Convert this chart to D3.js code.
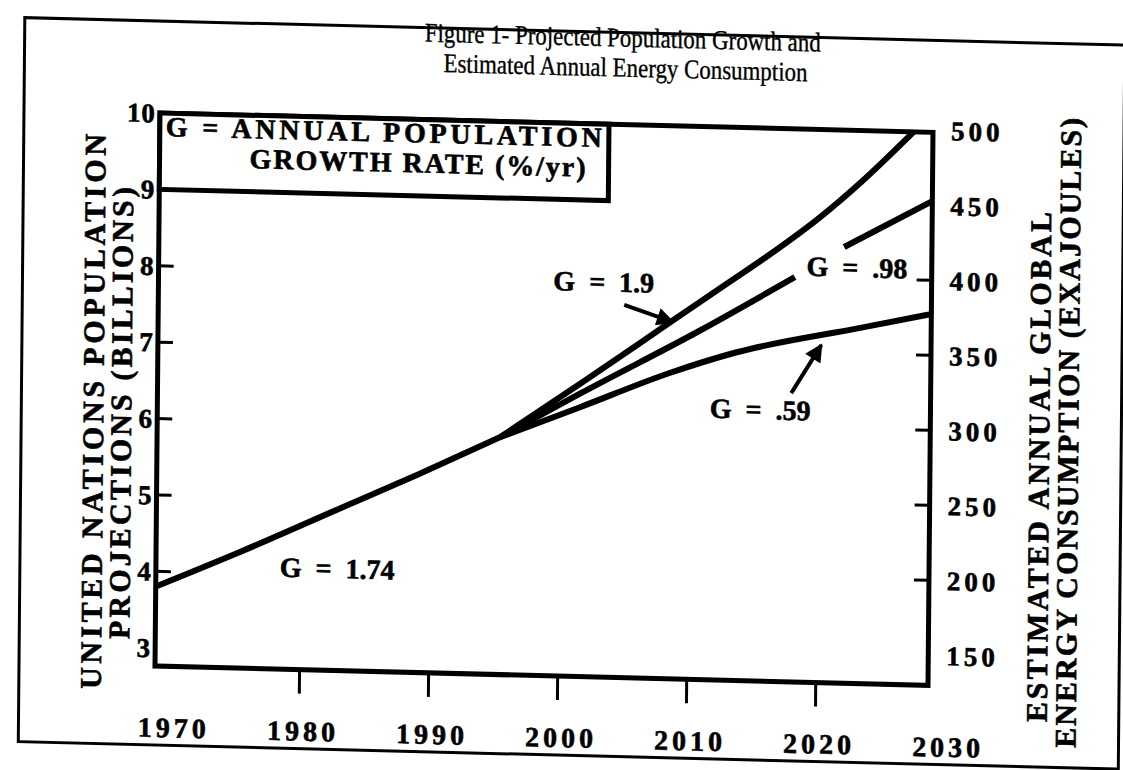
<!DOCTYPE html>
<html lang="en">
<head>
<meta charset="UTF-8">
<title>Figure 1 - Projected Population Growth</title>
<style>
  html, body { margin: 0; padding: 0; background: #fff; }
  svg { display: block; }
  text { font-family: "Liberation Serif", "Times New Roman", serif; fill: #000; }
  text.ink { stroke: #000; stroke-width: 0.6px; }
  text.title { stroke: #000; stroke-width: 0.35px; }
</style>
</head>
<body>
<div id="chart"></div>
<script src="https://cdn.jsdelivr.net/npm/d3@7/dist/d3.min.js"></script>
<script>
// ---- data ----
const yearLabels = [1970, 1980, 1990, 2000, 2010, 2020, 2030];
const yearTicks = [1980, 1990, 2000, 2010, 2020];
const popLabels = [3, 4, 5, 6, 7, 8, 9, 10];
const popTicks = [4, 5, 6, 7, 8];
const energyLabels = [150, 200, 250, 300, 350, 400, 450, 500];
const energyTicks = [200, 250, 300, 350, 400];

// G = 1.74 (history)
const histYear = [1968.8, 1975.3, 1983.1, 1989.0, 1995.4];
const histPop = [3.80, 4.28, 4.89, 5.35, 5.87];
// G = 1.9
const g190Year = [1995.4, 2001.6, 2008.5, 2013, 2016, 2020, 2023.2, 2027.2];
const g190Pop = [5.87, 6.60, 7.43, 7.97, 8.33, 8.85, 9.33, 10.0];
// G = .98 (broken where its label sits)
const g098Year = [1995.4, 2001.6, 2010.9, 2018.1, 2020.0, 2021.9, 2028.7];
const g098Pop = [5.87, 6.47, 7.34, 8.06, null, 8.47, 9.10];
// G = .59
const g059Year = [1995.4, 2001.6, 2008.4, 2013.5, 2023.3, 2028.7];
const g059Pop = [5.87, 6.29, 6.76, 7.05, 7.42, 7.62];

const growthLabels = ["G = 1.74", "G = 1.9", "G = .98", "G = .59"];
const labelYear = [1978.4, 1999.4, 2019.0, 2011.6];
const labelPop = [3.97, 7.81, 8.08, 6.19];

// arrows: [tailYear, tailPop, tipYear, tipPop]
const arrows = [
  [2004.9, 7.64, 2008.7, 7.43],
  [2017.9, 6.54, 2020.2, 7.18]
];

// ---- layout ----
const W = 1123, H = 770;
const pLeft = 160, pRight = 933, pTop = 113, pBottom = 666;

const svg = d3.select("#chart").append("svg")
    .attr("width", W)
    .attr("height", H);

svg.append("defs").append("marker")
    .attr("id", "head")
    .attr("viewBox", "0 0 10 10")
    .attr("refX", 9).attr("refY", 5)
    .attr("markerWidth", 24).attr("markerHeight", 18)
    .attr("markerUnits", "userSpaceOnUse")
    .attr("orient", "auto")
  .append("path")
    .attr("d", "M0,0 L10,5 L0,10 Z")
    .attr("fill", "#000");

// the scan is slightly skewed, so the whole page sits in a skewed group
const g = svg.append("g")
    .attr("transform", "matrix(1,0.025,-0.009,1,1,-4)");

const x = d3.scaleLinear().domain([1968.8, 2028.7]).range([pLeft, pRight]);
const y = d3.scaleLinear().domain([2.76, 10]).range([pBottom, pTop]);
const yE = d3.scaleLinear().domain([150, 500]).range([636, 111]);

// outer border (its right edge runs off the page near the top)
g.append("rect")
    .attr("x", 24).attr("y", 21)
    .attr("width", 1100).attr("height", 724)
    .attr("fill", "none").attr("stroke", "#000").attr("stroke-width", 3);

// title
g.append("text")
    .attr("class", "title")
    .attr("x", 622).attr("y", 35)
    .attr("text-anchor", "middle")
    .attr("font-size", 27)
    .attr("textLength", 396).attr("lengthAdjust", "spacingAndGlyphs")
    .text("Figure 1- Projected Population Growth and");
g.append("text")
    .attr("class", "title")
    .attr("x", 625).attr("y", 65)
    .attr("text-anchor", "middle")
    .attr("font-size", 27)
    .attr("textLength", 364).attr("lengthAdjust", "spacingAndGlyphs")
    .text("Estimated Annual Energy Consumption");

// plot frame
g.append("rect")
    .attr("x", pLeft).attr("y", pTop)
    .attr("width", pRight - pLeft).attr("height", pBottom - pTop)
    .attr("fill", "none").attr("stroke", "#000").attr("stroke-width", 5);

// legend box in the top left corner
g.append("rect")
    .attr("x", pLeft).attr("y", pTop)
    .attr("width", 449).attr("height", y(9) - pTop)
    .attr("fill", "#fff").attr("stroke", "#000").attr("stroke-width", 5);
g.append("text")
    .attr("class", "ink")
    .attr("x", 166).attr("y", 136)
    .attr("font-size", 28).attr("font-weight", "bold")
    .attr("textLength", 436).attr("lengthAdjust", "spacing")
    .text("G = ANNUAL POPULATION");
g.append("text")
    .attr("class", "ink")
    .attr("x", 418).attr("y", 166)
    .attr("text-anchor", "middle")
    .attr("font-size", 28).attr("font-weight", "bold")
    .attr("textLength", 336).attr("lengthAdjust", "spacing")
    .text("GROWTH RATE (%/yr)");

// left axis
g.selectAll(".ytick").data(popTicks).join("line")
    .attr("x1", pLeft).attr("x2", pLeft + 15)
    .attr("y1", d => y(d)).attr("y2", d => y(d))
    .attr("stroke", "#000").attr("stroke-width", 3);
g.selectAll(".ylab").data(popLabels).join("text")
    .attr("class", "ink")
    .attr("x", pLeft - 4).attr("y", d => y(d))
    .attr("dy", "0.35em")
    .attr("text-anchor", "end")
    .attr("font-size", 27).attr("font-weight", "bold")
    .attr("letter-spacing", 1)
    .text(d => d);

// right axis
g.selectAll(".etick").data(energyTicks).join("line")
    .attr("x1", pRight - 15).attr("x2", pRight)
    .attr("y1", d => yE(d)).attr("y2", d => yE(d))
    .attr("stroke", "#000").attr("stroke-width", 3);
g.selectAll(".elab").data(energyLabels).join("text")
    .attr("class", "ink")
    .attr("x", pRight + 18).attr("y", d => yE(d))
    .attr("dy", "0.35em")
    .attr("font-size", 27).attr("font-weight", "bold")
    .attr("letter-spacing", 4)
    .text(d => d);

// bottom axis
g.selectAll(".xtick").data(yearTicks).join("line")
    .attr("x1", d => x(d)).attr("x2", d => x(d))
    .attr("y1", pBottom).attr("y2", pBottom + 24)
    .attr("stroke", "#000").attr("stroke-width", 3);
g.selectAll(".xlab").data(yearLabels).join("text")
    .attr("class", "ink")
    .attr("x", d => x(d) + 4).attr("y", pBottom + 71)
    .attr("text-anchor", "middle")
    .attr("font-size", 28).attr("font-weight", "bold")
    .attr("letter-spacing", 4)
    .text(d => d);

// axis titles
const axisTitles = [
  { text: "UNITED NATIONS POPULATION", x: 106, y: 413, len: 555 },
  { text: "PROJECTIONS (BILLIONS)", x: 134, y: 414, len: 452 },
  { text: "ESTIMATED ANNUAL GLOBAL", x: 1052, y: 445, len: 510 },
  { text: "ENERGY CONSUMPTION (EXAJOULES)", x: 1081, y: 410, len: 630 }
];
g.selectAll(".atitle").data(axisTitles).join("text")
    .attr("class", "ink")
    .attr("transform", d => `translate(${d.x},${d.y}) rotate(-90)`)
    .attr("text-anchor", "middle")
    .attr("font-size", 30).attr("font-weight", "bold")
    .attr("textLength", d => d.len).attr("lengthAdjust", "spacing")
    .text(d => d.text);

// curves
const line = d3.line()
    .defined(d => d[1] != null)
    .x(d => x(d[0]))
    .y(d => y(d[1]))
    .curve(d3.curveMonotoneX);

const series = [
  d3.zip(histYear, histPop),
  d3.zip(g190Year, g190Pop),
  d3.zip(g098Year, g098Pop),
  d3.zip(g059Year, g059Pop)
];

g.selectAll(".curve").data(series).join("path")
    .attr("class", "curve")
    .attr("d", line)
    .attr("fill", "none")
    .attr("stroke", "#000")
    .attr("stroke-width", 6)
    .attr("stroke-linejoin", "round");

// growth rate labels
g.selectAll(".glab").data(growthLabels).join("text")
    .attr("class", "ink")
    .attr("x", (d, i) => x(labelYear[i]))
    .attr("y", (d, i) => y(labelPop[i]))
    .attr("font-size", 28).attr("font-weight", "bold")
    .attr("xml:space", "preserve")
    .text(d => d.replace(/ /g, "  "));

// arrows
g.selectAll(".arrow").data(arrows).join("line")
    .attr("x1", d => x(d[0])).attr("y1", d => y(d[1]))
    .attr("x2", d => x(d[2])).attr("y2", d => y(d[3]))
    .attr("stroke", "#000").attr("stroke-width", 4)
    .attr("marker-end", "url(#head)");
</script>
</body>
</html>
